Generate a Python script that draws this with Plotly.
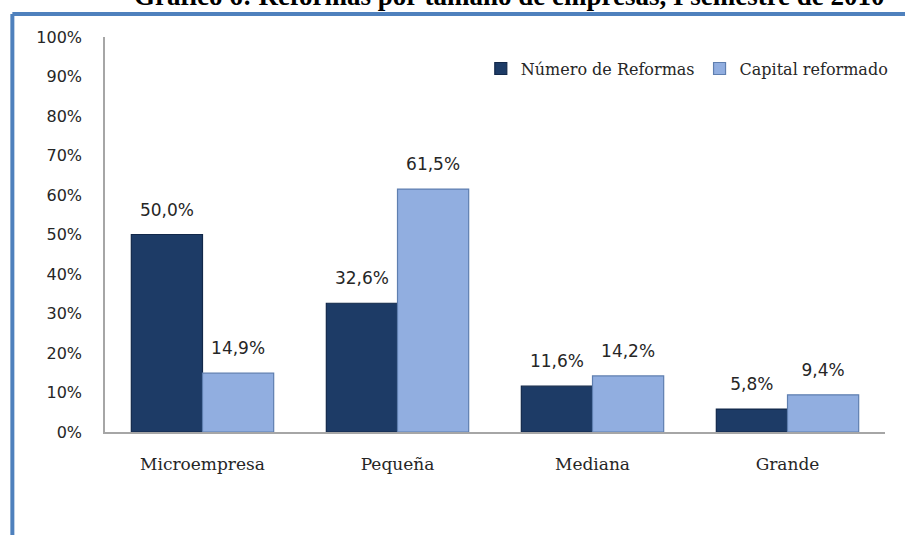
import plotly.graph_objects as go

categories = ["Microempresa", "Pequeña", "Mediana", "Grande"]
numero_reformas = [50.0, 32.6, 11.6, 5.8]
capital_reformado = [14.9, 61.5, 14.2, 9.4]
series_names = ["Número de Reformas", "Capital reformado"]
y_ticks = [0, 10, 20, 30, 40, 50, 60, 70, 80, 90, 100]
y_tick_labels = [f"{v}%" for v in y_ticks]
title_text = "Gráfico 6: Reformas por tamaño de empresas, I semestre de 2010"

DARK = "#1d3b66"
LIGHT = "#91aee0"
SERIF = "DejaVu Serif"
SANS = "DejaVu Sans"
TEXT_COLOUR = "#262626"
GAP = 0.27


def make_bar(values, name, colour, edge, group):
  return go.Bar(x=categories,
                y=values,
                name=name,
                offsetgroup=group,
                marker=dict(color=colour, line=dict(color=edge, width=1.2)))


def make_labels(values, group):
  # invisible markers push the value labels a little above the bar tops
  return go.Scatter(x=categories,
                    y=values,
                    offsetgroup=group,
                    mode="markers+text",
                    marker=dict(size=22, opacity=0),
                    texttemplate="%{y:.1f}%",
                    textposition="top center",
                    textfont=dict(family=SANS, size=17, color=TEXT_COLOUR),
                    cliponaxis=False,
                    showlegend=False,
                    hoverinfo="skip")


fig = go.Figure()
fig.add_trace(make_bar(numero_reformas, series_names[0], DARK, "#12284a", "a"))
fig.add_trace(
    make_bar(capital_reformado, series_names[1], LIGHT, "#5f7fb0", "b"))
fig.add_trace(make_labels(numero_reformas, "a"))
fig.add_trace(make_labels(capital_reformado, "b"))

fig.update_layout(
    width=905,
    height=535,
    margin=dict(l=105, r=17, t=37, b=103),
    paper_bgcolor="white",
    plot_bgcolor="white",
    separators=",.",
    barmode="group",
    bargap=GAP,
    bargroupgap=0,
    scattermode="group",
    scattergap=GAP,
    showlegend=True,
    legend=dict(orientation="h",
                x=1.01,
                xanchor="right",
                y=0.92,
                yanchor="middle",
                font=dict(family=SERIF, size=16, color=TEXT_COLOUR),
                itemwidth=30,
                traceorder="normal",
                bgcolor="rgba(0,0,0,0)"),
    xaxis=dict(showline=True,
               linecolor="#a6a6a6",
               linewidth=1.5,
               ticks="",
               tickfont=dict(family=SERIF, size=17, color=TEXT_COLOUR),
               ticklabelstandoff=16),
    yaxis=dict(range=[0, 100],
               tickvals=y_ticks,
               ticktext=y_tick_labels,
               showgrid=False,
               zeroline=False,
               showline=True,
               linecolor="#a6a6a6",
               linewidth=1.5,
               ticks="",
               ticklabelstandoff=18,
               tickfont=dict(family=SANS, size=16, color=TEXT_COLOUR)),
)

# title cut off at the top, as in the source image
fig.add_annotation(text="<b>" + title_text + "</b>",
                   xref="paper",
                   yref="paper",
                   x=0.035,
                   xanchor="left",
                   y=1 + 24 / 395,
                   yanchor="bottom",
                   showarrow=False,
                   font=dict(family="Liberation Serif", size=27,
                             color="#000000"))

# blue frame on left and top
frame_left = -93 / 783
frame_top = 1 + 23 / 395
fig.add_shape(type="line", xref="paper", yref="paper",
              x0=frame_left, x1=frame_left, y0=frame_top, y1=-0.4,
              line=dict(color="#4f81bd", width=4))
fig.add_shape(type="line", xref="paper", yref="paper",
              x0=frame_left, x1=1.1, y0=frame_top, y1=frame_top,
              line=dict(color="#4f81bd", width=4))

fig.write_html("out.html",
               config={"displayModeBar": False},
               post_script="document.body.style.margin='0';")
